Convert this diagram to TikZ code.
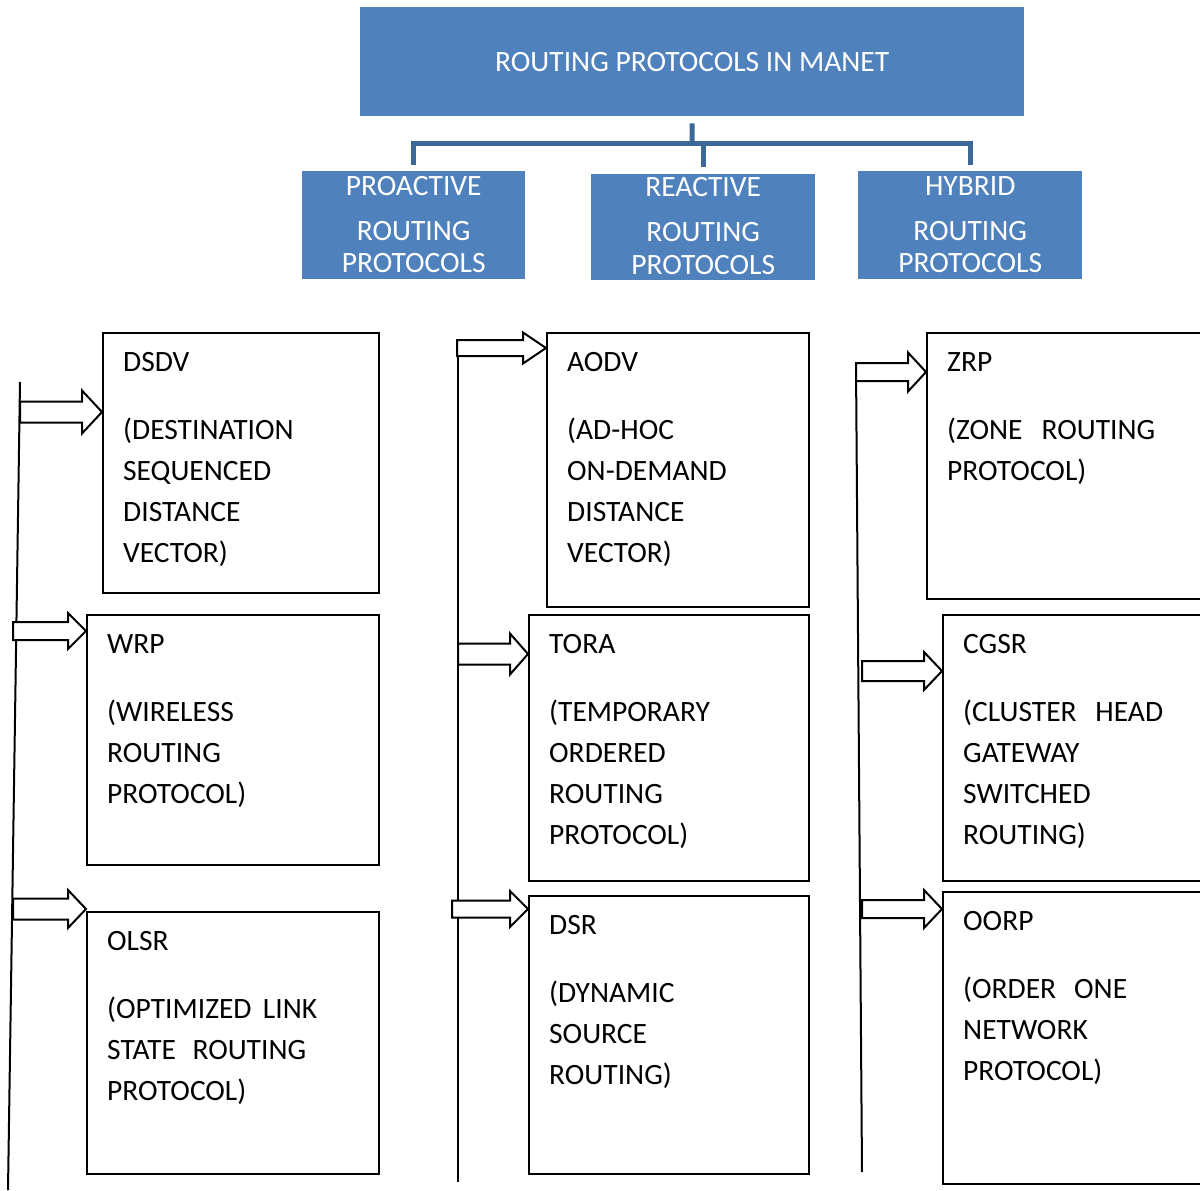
\documentclass[tikz,border=0pt]{standalone}
\usepackage{fontspec}
\setmainfont{Carlito}
\usetikzlibrary{calc, positioning}

\definecolor{boxblue}{RGB}{79,129,189}
\definecolor{busblue}{RGB}{60,104,150}

% fat outlined arrow from a point on a rail to the west side of a box
% #1 start, #2 box, #3 shaft half height, #4 head length, #5 head half height
\newcommand{\blockarrow}[5]{%
  \draw[fatarrow] ($(#1)+(0,-#3)$) -- ($(#2.west |- #1)+(-#4,-#3)$)
    -- ($(#2.west |- #1)+(-#4,-#5)$) -- (#2.west |- #1)
    -- ($(#2.west |- #1)+(-#4,#5)$) -- ($(#2.west |- #1)+(-#4,#3)$)
    -- ($(#1)+(0,#3)$) -- cycle;}

\begin{document}
\begin{tikzpicture}[
        x=1pt, y=-1pt,
        bluebox/.style={fill=boxblue, anchor=north west, inner sep=0pt},
        bluetext/.style={text=white, align=center, anchor=north, inner sep=0pt,
            font=\fontsize{29.5}{41}\selectfont},
        plainbox/.style={draw, line width=2pt, anchor=north west, inner sep=0pt},
        desc/.style={align=left, anchor=north west, inner sep=0pt,
            font=\fontsize{29.5}{41}\selectfont},
        trunk/.style={busblue, line width=5pt},
        rail/.style={line width=2pt},
        fatarrow/.style={fill=white, line width=2pt, line join=miter}
    ]
        \useasboundingbox (0,0) rectangle (1200,1191);
        \clip (0,0) rectangle (1200,1191);

        % Title and the three classes
        \node[bluebox, minimum width=664, minimum height=109, text=white,
            font=\fontsize{29.5}{41}\selectfont] (title) at (360,7) {ROUTING PROTOCOLS IN MANET};
        \node[bluebox, minimum width=223, minimum height=108] (pro) at (302,171) {};
        \node[bluebox, minimum width=224, minimum height=106] (rea) at (591,174) {};
        \node[bluebox, minimum width=224, minimum height=108] (hyb) at (858,171) {};
        \node[bluetext] (pro-t) at ($(pro.north)+(0,-6)$) {\rule{0pt}{30pt}PROACTIVE\\[4pt]ROUTING\\[-9pt]PROTOCOLS};
        \node[bluetext] (rea-t) at ($(rea.north)+(0,-8)$) {\rule{0pt}{30pt}REACTIVE\\[4pt]ROUTING\\[-8pt]PROTOCOLS};
        \node[bluetext] (hyb-t) at ($(hyb.north)+(0,-6)$) {\rule{0pt}{30pt}HYBRID\\[4pt]ROUTING\\[-9pt]PROTOCOLS};

        % Tree connector
        \coordinate (bus) at (692,143);
        \draw[trunk] ($(title.south)+(0,7)$) -- (bus);
        \draw[trunk] ($(pro.north)+(0,-6)$) |- (bus) -| ($(hyb.north)+(0,-6)$);
        \draw[trunk] (rea.north |- bus) -- ($(rea.north)+(0,-7)$);

        % Proactive column
        \node[plainbox, minimum width=276, minimum height=260] (DSDV) at (102,332) {};
        \node[plainbox, minimum width=292, minimum height=250] (WRP) at (86,614) {};
        \node[plainbox, minimum width=292, minimum height=262] (OLSR) at (86,911) {};
        \node[desc] (DSDV-t) at ($(DSDV.north west)+(21,9)$)
            {\rule{0pt}{30pt}DSDV\\[27pt](DESTINATION\\SEQUENCED\\DISTANCE\\VECTOR)};
        \node[desc] (WRP-t) at ($(WRP.north west)+(21,9)$)
            {\rule{0pt}{30pt}WRP\\[27pt](WIRELESS\\ROUTING\\PROTOCOL)};
        \node[desc] (OLSR-t) at ($(OLSR.north west)+(21,9)$)
            {\rule{0pt}{30pt}OLSR\\[27pt]\makebox[210pt][s]{(OPTIMIZED LINK}\\\makebox[199pt][s]{STATE ROUTING}\\PROTOCOL)};

        % Reactive column
        \node[plainbox, minimum width=262, minimum height=274] (AODV) at (546,332) {};
        \node[plainbox, minimum width=280, minimum height=266] (TORA) at (528,614) {};
        \node[plainbox, minimum width=280, minimum height=278] (DSR) at (528,895) {};
        \node[desc] (AODV-t) at ($(AODV.north west)+(21,9)$)
            {\rule{0pt}{30pt}AODV\\[27pt](AD-HOC\\ON-DEMAND\\DISTANCE\\VECTOR)};
        \node[desc] (TORA-t) at ($(TORA.north west)+(21,9)$)
            {\rule{0pt}{30pt}TORA\\[27pt](TEMPORARY\\ORDERED\\ROUTING\\PROTOCOL)};
        \node[desc] (DSR-t) at ($(DSR.north west)+(21,9)$)
            {\rule{0pt}{30pt}DSR\\[27pt](DYNAMIC\\SOURCE\\ROUTING)};

        % Hybrid column
        \node[plainbox, minimum width=290, minimum height=266] (ZRP) at (926,332) {};
        \node[plainbox, minimum width=274, minimum height=266] (CGSR) at (942,614) {};
        \node[plainbox, minimum width=274, minimum height=292] (OORP) at (942,891) {};
        \node[desc] (ZRP-t) at ($(ZRP.north west)+(21,9)$)
            {\rule{0pt}{30pt}ZRP\\[27pt]\makebox[208pt][s]{(ZONE ROUTING}\\PROTOCOL)};
        \node[desc] (CGSR-t) at ($(CGSR.north west)+(21,9)$)
            {\rule{0pt}{30pt}CGSR\\[27pt]\makebox[200pt][s]{(CLUSTER HEAD}\\GATEWAY\\SWITCHED\\ROUTING)};
        \node[desc] (OORP-t) at ($(OORP.north west)+(21,9)$)
            {\rule{0pt}{30pt}OORP\\[27pt]\makebox[164pt][s]{(ORDER ONE}\\NETWORK\\PROTOCOL)};

        % Rails
        \draw[rail] (20,382) -- (8,1190);
        \draw[rail] (458,340) -- (458,1182);
        \draw[rail] (856,365) -- (862,1172);

        % Arrow starts on the rails
        \coordinate (s1) at (20,412);
        \coordinate (s2) at (13,631);
        \coordinate (s3) at (13,909);
        \coordinate (s4) at (457,348);
        \coordinate (s5) at (458,654);
        \coordinate (s6) at (452,909);
        \coordinate (s7) at (856,372);
        \coordinate (s8) at (862,671);
        \coordinate (s9) at (862,909);

        \blockarrow{s1}{DSDV}{10.5}{20}{21.5}
        \blockarrow{s2}{WRP}{9}{18}{18}
        \blockarrow{s3}{OLSR}{10.5}{18}{19}
        \blockarrow{s4}{AODV}{8}{23}{15.5}
        \blockarrow{s5}{TORA}{10.5}{18}{20.5}
        \blockarrow{s6}{DSR}{8.5}{18}{18}
        \blockarrow{s7}{ZRP}{9}{18}{19.5}
        \blockarrow{s8}{CGSR}{10}{18}{19}
        \blockarrow{s9}{OORP}{9}{18}{19}
    \end{tikzpicture}
\end{document}
